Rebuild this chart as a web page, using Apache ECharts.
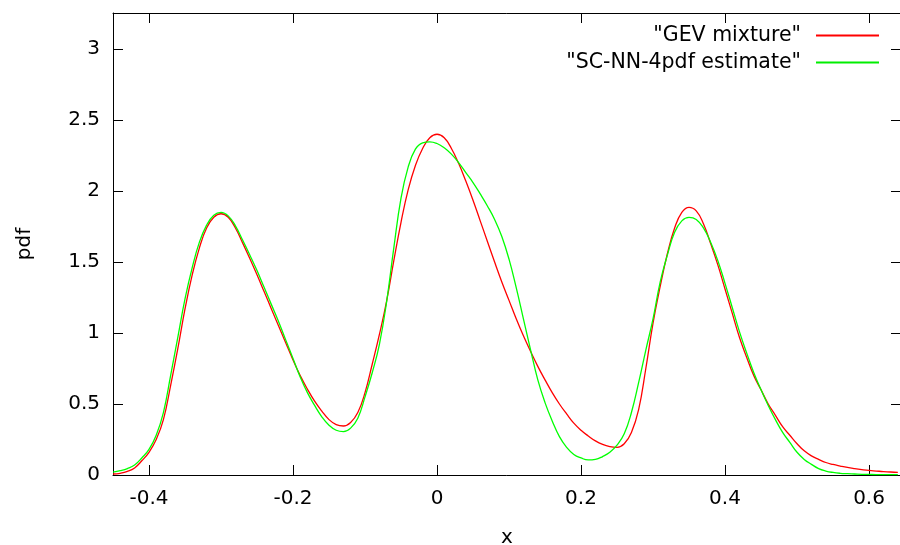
<!DOCTYPE html>
<html>
<head>
<meta charset="utf-8">
<script src="https://cdn.jsdelivr.net/npm/echarts@6/dist/echarts.min.js"></script>
<style>html,body{margin:0;padding:0;background:#fff}#c{width:900px;height:545px}</style>
</head>
<body>
<div id="c"></div>
<script>
var xValues = [
-0.45,-0.44,-0.43,-0.42,-0.41,-0.40,-0.39,-0.38,-0.37,-0.36,
-0.35,-0.34,-0.33,-0.32,-0.31,-0.30,-0.29,-0.28,-0.27,-0.26,
-0.25,-0.24,-0.23,-0.22,-0.21,-0.20,-0.19,-0.18,-0.17,-0.16,
-0.15,-0.14,-0.13,-0.12,-0.11,-0.10,-0.09,-0.08,-0.07,-0.06,
-0.05,-0.04,-0.03,-0.02,-0.01,0.00,0.01,0.02,0.03,0.04,
0.05,0.06,0.07,0.08,0.09,0.10,0.11,0.12,0.13,0.14,
0.15,0.16,0.17,0.18,0.19,0.20,0.21,0.22,0.23,0.24,
0.25,0.26,0.27,0.28,0.29,0.30,0.31,0.32,0.33,0.34,
0.35,0.36,0.37,0.38,0.39,0.40,0.41,0.42,0.43,0.44,
0.45,0.46,0.47,0.48,0.49,0.50,0.51,0.52,0.53,0.54,
0.55,0.56,0.57,0.58,0.59,0.60,0.61,0.62,0.63,0.64
];
var gevMixture = [
0.007,0.012,0.025,0.05,0.10,0.16,0.25,0.39,0.63,0.89,
1.17,1.41,1.60,1.74,1.815,1.84,1.815,1.74,1.635,1.525,
1.41,1.29,1.17,1.05,0.93,0.81,0.70,0.605,0.52,0.45,
0.39,0.355,0.345,0.37,0.44,0.58,0.78,0.99,1.225,1.51,
1.78,2.01,2.18,2.30,2.375,2.40,2.375,2.30,2.195,2.07,
1.935,1.79,1.645,1.50,1.36,1.23,1.10,0.98,0.87,0.765,
0.67,0.58,0.50,0.43,0.365,0.315,0.275,0.24,0.215,0.20,
0.195,0.22,0.30,0.46,0.75,1.07,1.33,1.56,1.74,1.85,
1.885,1.86,1.77,1.63,1.48,1.31,1.14,0.97,0.83,0.70,
0.60,0.50,0.42,0.34,0.28,0.22,0.17,0.135,0.11,0.088,
0.074,0.063,0.053,0.045,0.038,0.032,0.028,0.024,0.021,0.019
];
var scNN4pdf = [
0.02,0.03,0.045,0.07,0.12,0.18,0.28,0.44,0.70,0.97,
1.24,1.46,1.64,1.76,1.83,1.85,1.825,1.755,1.655,1.55,
1.44,1.32,1.20,1.08,0.95,0.82,0.69,0.58,0.49,0.41,
0.35,0.315,0.305,0.33,0.40,0.55,0.72,0.92,1.22,1.60,
1.95,2.17,2.295,2.34,2.347,2.335,2.305,2.26,2.20,2.13,
2.06,1.98,1.895,1.80,1.68,1.52,1.32,1.10,0.88,0.67,
0.51,0.38,0.27,0.195,0.145,0.12,0.106,0.11,0.13,0.16,
0.21,0.29,0.44,0.65,0.88,1.10,1.36,1.55,1.71,1.79,
1.815,1.80,1.74,1.64,1.51,1.35,1.18,1.01,0.86,0.72,
0.60,0.49,0.39,0.30,0.23,0.16,0.11,0.075,0.045,0.028,
0.018,0.012,0.009,0.007,0.005,0.004,0.003,0.003,0.003,0.003
];
var xTicks = [-0.4, -0.2, 0, 0.2, 0.4, 0.6];
var yTicks = [0, 0.5, 1, 1.5, 2, 2.5, 3];
var seriesNames = ['"GEV mixture"', '"SC-NN-4pdf estimate"'];

function zip(xs, ys) { return xs.map(function (x, i) { return [x, ys[i]]; }); }

var FONT = 'DejaVu Sans';
var chart = echarts.init(document.getElementById('c'), null, { renderer: 'canvas' });
var tickStyle = { show: true, inside: true, length: 10, lineStyle: { color: '#000', width: 1 } };
chart.setOption({
  animation: false,
  backgroundColor: '#fff',
  grid: { left: 113, top: 13, width: 788, height: 462, containLabel: false, outerBoundsMode: 'none' },
  legend: {
    orient: 'vertical', align: 'right', right: 16, top: 20,
    itemWidth: 63, itemHeight: 2, itemGap: 6, icon: 'rect',
    textStyle: { fontFamily: FONT, fontSize: 20.5, color: '#000', padding: [0, 10, 0, 0] },
    data: seriesNames
  },
  xAxis: [{
    type: 'value', min: -0.45, max: 0.6444, position: 'bottom',
    name: 'x', nameLocation: 'middle', nameGap: 53,
    nameTextStyle: { fontFamily: FONT, fontSize: 20, color: '#000' },
    axisLine: { show: true, onZero: false, lineStyle: { color: '#000', width: 1 } },
    axisTick: Object.assign({ customValues: xTicks }, tickStyle),
    axisLabel: { customValues: xTicks, fontFamily: FONT, fontSize: 20, color: '#000', margin: 14 },
    splitLine: { show: false }
  }, {
    type: 'value', min: -0.45, max: 0.6444, position: 'top',
    axisLine: { show: true, onZero: false, lineStyle: { color: '#000', width: 1 } },
    axisTick: Object.assign({ customValues: xTicks }, tickStyle),
    axisLabel: { show: false },
    splitLine: { show: false }
  }],
  yAxis: [{
    type: 'value', min: 0, max: 3.254, position: 'left',
    name: 'pdf', nameLocation: 'middle', nameGap: 78, nameRotate: 90,
    nameTextStyle: { fontFamily: FONT, fontSize: 20, color: '#000' },
    axisLine: { show: true, onZero: false, lineStyle: { color: '#000', width: 1 } },
    axisTick: Object.assign({ customValues: yTicks }, tickStyle),
    axisLabel: { customValues: yTicks, fontFamily: FONT, fontSize: 20, color: '#000', margin: 13 },
    splitLine: { show: false }
  }, {
    type: 'value', min: 0, max: 3.254, position: 'right',
    axisLine: { show: true, onZero: false, lineStyle: { color: '#000', width: 1 } },
    axisTick: Object.assign({ customValues: yTicks }, tickStyle),
    axisLabel: { show: false },
    splitLine: { show: false }
  }],
  series: [{
    name: seriesNames[0], type: 'line', data: zip(xValues, gevMixture),
    showSymbol: false, smooth: 0.45, color: '#ff0000',
    lineStyle: { color: '#ff0000', width: 1.3 }
  }, {
    name: seriesNames[1], type: 'line', data: zip(xValues, scNN4pdf),
    showSymbol: false, smooth: 0.45, color: '#00ee00',
    lineStyle: { color: '#00ff00', width: 1.3 }
  }]
});
</script>
</body>
</html>
